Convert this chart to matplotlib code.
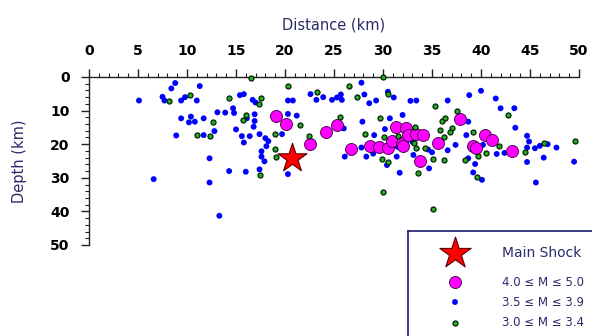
import matplotlib.pyplot as plt
from matplotlib.ticker import MultipleLocator

# main shock (distance km, depth km)
main_x = [20.7]
main_d = [24.0]

# 4.0 <= M <= 5.0
big_x = [19.1, 20.1, 22.6, 24.2, 25.3, 26.7, 28.7, 29.6, 30.5, 30.9, 31.3, 32.3, 31.9,
         32.0, 32.6, 33.4, 34.1, 33.8, 35.6, 37.9, 39.2, 39.5, 40.4, 41.1, 43.2]
big_d = [11.5, 14.0, 20.0, 16.4, 14.3, 21.4, 20.4, 20.7, 21.0, 19.0, 15.0, 15.3, 19.7,
         20.5, 17.3, 17.0, 17.3, 25.0, 19.7, 12.6, 20.4, 21.0, 17.3, 18.8, 22.0]

# 3.5 <= M <= 3.9
mid_x = [5.1, 6.6, 7.5, 7.7, 8.4, 8.8, 8.9, 9.4, 9.8, 9.4, 10.4, 10.2, 10.8, 11.0, 11.3,
         11.7, 11.7, 12.3, 12.3, 12.8, 13.1, 13.3, 13.9, 14.3, 14.7, 14.8, 15.0, 15.4,
         15.8, 15.6, 15.8, 16.0, 16.1, 16.4, 16.7, 17.0, 16.9, 16.9, 16.8, 17.4, 17.4,
         17.6, 17.6, 17.9, 18.0, 18.3, 18.1, 19.7, 20.3, 20.8, 20.3, 20.3, 21.2, 22.6,
         23.2, 23.9, 24.8, 25.3, 25.7, 25.8, 26.0, 26.1, 27.8, 27.9, 27.8, 28.1, 28.6,
         29.3, 28.3, 29.1, 30.5, 30.2, 30.7, 30.4, 31.1, 31.4, 31.7, 32.0, 32.8, 33.4,
         33.1, 34.7, 36.6, 38.8, 38.7, 38.5, 38.7, 39.4, 39.2, 40.0, 40.1, 40.2, 41.5,
         41.6, 42.0, 43.4, 43.5, 44.7, 44.9, 44.7, 44.7, 45.5, 46.0, 46.4, 45.6, 46.8,
         47.7, 49.5, 31.5, 33.0, 34.6, 37.4, 36.6, 42.4, 29.0, 35.0]
mid_d = [7.0, 30.4, 5.9, 7.0, 3.4, 1.8, 17.4, 7.0, 6.0, 12.3, 11.8, 13.5, 13.3, 7.0, 2.7,
         12.3, 17.3, 24.2, 31.4, 16.1, 10.5, 41.3, 10.6, 28.0, 9.3, 10.7, 15.6, 5.4,
         5.1, 17.6, 19.5, 28.2, 12.3, 17.6, 6.8, 7.6, 11.1, 13.1, 14.8, 17.0, 27.5,
         22.1, 23.7, 25.1, 18.2, 19.1, 20.6, 17.0, 7.0, 7.0, 11.0, 28.9, 11.5, 5.1,
         6.8, 6.0, 6.8, 6.1, 5.2, 6.8, 15.3, 23.7, 1.7, 13.3, 21.0, 5.2, 7.8,
         7.0, 23.7, 17.3, 4.4, 15.5, 12.3, 26.2, 6.1, 23.7, 28.5, 11.3, 7.1, 7.0,
         23.2, 27.2, 7.0, 5.4, 13.3, 17.3, 24.2, 25.9, 28.4, 4.1, 30.6, 20.2, 6.4,
         22.9, 9.3, 9.3, 15.1, 17.5, 19.2, 21.0, 25.3, 21.2, 20.5, 24.0, 31.4, 20.0,
         21.0, 25.2, 20.8, 19.3, 21.6, 20.2, 21.8, 22.6, 22.8, 22.4]

# 3.0 <= M <= 3.4
small_x = [8.2, 10.3, 11.0, 12.3, 12.7, 14.3, 15.7, 16.0, 16.5, 17.3, 17.6, 17.4, 19.0,
           19.0, 19.1, 20.3, 21.5, 22.4, 23.3, 25.6, 26.5, 27.3, 28.2, 29.7, 29.9, 30.0,
           30.0, 30.1, 30.5, 30.5, 31.5, 33.3, 33.2, 33.4, 33.6, 34.3, 35.1, 35.1, 35.3,
           35.8, 36.0, 36.3, 36.2, 36.2, 37.0, 36.8, 37.6, 38.4, 39.2, 39.6, 39.7, 40.5,
           41.8, 42.8, 44.5, 46.4, 49.6]
small_d = [7.0, 5.4, 17.3, 17.5, 13.5, 6.2, 12.8, 11.3, 0.2, 8.1, 6.2, 29.1, 17.1,
           21.3, 23.8, 2.7, 14.3, 17.5, 4.6, 12.0, 2.6, 5.9, 17.0, 12.3, 24.5, 0.0,
           34.3, 18.0, 5.0, 25.2, 17.5, 15.0, 19.7, 21.0, 28.5, 21.0, 24.3, 39.3, 8.6,
           15.8, 13.0, 12.3, 17.8, 24.6, 15.3, 16.5, 10.1, 24.7, 16.5, 29.7, 23.4, 22.7,
           20.6, 11.3, 22.4, 19.7, 19.0]

legend_labels = ['Main Shock', '4.0 \u2264 M \u2264 5.0', '3.5 \u2264 M \u2264 3.9',
                 '3.0 \u2264 M \u2264 3.4']

W, H = 592, 336
fig = plt.figure(figsize=(W / 100, H / 100), dpi=100)
ax = fig.add_axes([89 / W, 1 - 245 / H, 490 / W, 168 / H])

ax.scatter(mid_x, mid_d, s=18, color='#0000ff', edgecolors='none', zorder=3, clip_on=False)
ax.scatter(big_x, big_d, s=75, color='#ff00ff', edgecolors='#3a0040', linewidths=0.6,
           zorder=4, clip_on=False)
ax.scatter(small_x, small_d, s=13, color='#1fb01f', edgecolors='#062006', linewidths=0.9,
           zorder=5, clip_on=False)
ax.scatter(main_x, main_d, s=480, marker='*', color='#ff0000', edgecolors='#5a0000',
           linewidths=0.8, zorder=6, clip_on=False)

ax.set_xlim(0, 50)
ax.set_ylim(50, 0)
ax.xaxis.set_major_locator(MultipleLocator(5))
ax.xaxis.set_minor_locator(MultipleLocator(1))
ax.yaxis.set_major_locator(MultipleLocator(10))
ax.yaxis.set_minor_locator(MultipleLocator(2))
ax.xaxis.tick_top()
ax.xaxis.set_label_position('top')
for s in ['right', 'bottom']:
    ax.spines[s].set_visible(False)
for s in ['top', 'left']:
    ax.spines[s].set_linewidth(1.0)
    ax.spines[s].set_color('#222222')
ax.tick_params(which='major', direction='out', length=6, width=1.0, color='#222222',
               labelsize=10, pad=8)
ax.tick_params(which='minor', direction='out', length=3, width=0.8, color='#222222')
for lab in ax.get_xticklabels() + ax.get_yticklabels():
    lab.set_fontweight('bold')
ax.set_xlabel('Distance (km)', fontsize=10.5, color='#2a2a6a', labelpad=10)
ax.set_ylabel('Depth (km)', fontsize=10.5, color='#2a2a6a', labelpad=17)

# legend box, running off the right and bottom edges of the figure
lax = fig.add_axes([408 / W, -0.05, 0.4, (336 - 231) / H + 0.05])
lax.set_xlim(0, 1)
lax.set_ylim(0, 1)
lax.set_xticks([])
lax.set_yticks([])
for s in ['right', 'bottom']:
    lax.spines[s].set_visible(False)
for s in ['top', 'left']:
    lax.spines[s].set_color('#1a1a70')
    lax.spines[s].set_linewidth(1.2)
lax.patch.set_alpha(0)

rows = [253, 282, 302, 323]
styles = [dict(s=560, marker='*', color='#ff0000', edgecolors='#5a0000', linewidths=0.8),
          dict(s=75, color='#ff00ff', edgecolors='#3a0040', linewidths=0.6),
          dict(s=18, color='#0000ff', edgecolors='none'),
          dict(s=13, color='#1fb01f', edgecolors='#062006', linewidths=0.9)]
sizes = [10, 8.5, 8.5, 8.5]
for row, st, lab, fs in zip(rows, styles, legend_labels, sizes):
    fy = 1 - row / H
    lax.scatter([455 / W], [fy], transform=fig.transFigure, clip_on=False, **st)
    fig.text(502 / W, fy, lab, fontsize=fs, color='#2a2a6a', va='center', ha='left')

fig.savefig('out.png', dpi=100)
